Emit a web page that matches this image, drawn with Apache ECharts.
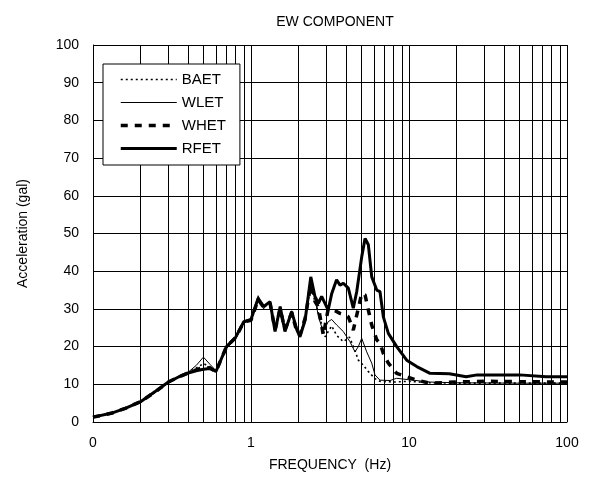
<!DOCTYPE html>
<html>
<head>
<meta charset="utf-8">
<script src="https://cdn.jsdelivr.net/npm/echarts@6/dist/echarts.min.js"></script>
<style>html,body{margin:0;padding:0;background:#fff}#c{width:589px;height:490px}</style>
</head>
<body>
<div id="c"></div>
<script>
const seriesNames = ['BAET', 'WLET', 'WHET', 'RFET'];
const xTickLabels = ['0', '1', '10', '100'];

const baet = [[0.1,1.3],[0.13,2.3],[0.16,3.6],[0.2,5.3],[0.25,8],[0.3,10.5],[0.35,12],[0.4,13.1],[0.45,14.3],[0.5,15.5],[0.55,14.6],[0.6,13.5],[0.7,19.8],[0.8,22.3],[0.9,26.4],[1.0,27],[1.11,33],[1.2,30.3],[1.32,31.7],[1.42,24.3],[1.53,30.4],[1.64,24.3],[1.81,29.2],[1.95,24.2],[2.04,22.8],[2.2,27.5],[2.39,36],[2.54,32],[2.67,29],[2.94,22.6],[3.24,25.5],[3.48,23],[3.84,21.3],[4.2,22.5],[4.5,19.5],[4.78,16.4],[5.1,15.2],[5.5,13.5],[6.09,11.5],[6.55,10.8],[8,10.6],[10,10.8],[13.6,10.4],[20,10.3],[50,10.3],[100,10.3]];

const wlet = [[0.1,1.3],[0.13,2.3],[0.16,3.6],[0.2,5.3],[0.25,8],[0.3,10.5],[0.35,12],[0.4,13.2],[0.45,15],[0.5,17.2],[0.55,15.3],[0.6,13.6],[0.7,19.5],[0.8,22],[0.9,26.3],[1.0,27],[1.11,33.5],[1.2,30],[1.32,32],[1.42,24.5],[1.53,30.2],[1.64,24.5],[1.81,29.5],[1.95,24],[2.04,22.8],[2.2,28],[2.39,37],[2.54,33],[2.67,28],[2.86,24],[3.08,26.6],[3.24,27.2],[3.49,25.7],[3.84,24],[4.23,21.3],[4.55,18.6],[4.78,20],[5.02,22.2],[5.4,18.6],[5.81,15.6],[6.09,12.5],[6.55,11.1],[7.58,11],[8.36,11.6],[10,11.2],[13.6,10.6],[20,10.4],[50,10.3],[100,10.3]];

const whet = [[0.1,1.3],[0.13,2.3],[0.16,3.6],[0.2,5.4],[0.25,8.1],[0.3,10.6],[0.35,12],[0.4,13],[0.45,13.8],[0.5,14.5],[0.55,14.3],[0.6,13.4],[0.7,20],[0.8,22.4],[0.9,26.5],[1.0,27],[1.11,32.5],[1.2,30.5],[1.32,31.5],[1.42,24.5],[1.53,30],[1.64,24.5],[1.81,29],[1.95,24],[2.04,23],[2.2,27.5],[2.39,36.5],[2.54,32],[2.67,30.5],[2.87,23],[3.08,30],[3.4,29.5],[3.66,28.8],[3.94,28.4],[4.13,27.9],[4.44,24.4],[4.78,30.2],[5.02,34.1],[5.27,33.7],[5.53,29.7],[5.81,25.7],[6.25,21.8],[6.55,20.9],[6.88,18.2],[7.4,15.6],[8.36,12.9],[9.67,12],[11.2,11.1],[13.6,10.3],[20,10.6],[30,10.8],[50,10.7],[100,10.6]];

const rfet = [[0.1,1.3],[0.13,2.3],[0.16,3.6],[0.2,5.4],[0.25,8.2],[0.3,10.6],[0.35,12],[0.4,13],[0.45,13.6],[0.5,14],[0.55,14.2],[0.6,13.4],[0.7,20],[0.8,22.5],[0.9,26.6],[1.0,27.2],[1.11,32.8],[1.2,30.6],[1.32,31.9],[1.42,24],[1.53,30.6],[1.64,24],[1.81,29.3],[1.95,24.5],[2.04,22.6],[2.2,27],[2.39,38.5],[2.54,33.3],[2.67,31.5],[2.8,33.3],[3.08,29.7],[3.24,34],[3.48,37.7],[3.66,36.3],[3.84,36.8],[4.13,35.5],[4.44,30.2],[4.67,34.6],[5.02,43.8],[5.27,48.7],[5.53,47],[5.81,38.5],[6.25,35],[6.55,34.6],[6.88,27.9],[7.4,23.5],[8.36,20],[9.67,16.4],[11.2,14.7],[13.6,12.9],[18,12.8],[23,12],[27,12.5],[38,12.5],[50,12.5],[74,12],[100,12]];

const FONT = 'Liberation Sans, Arial, sans-serif';
const chart = echarts.init(document.getElementById('c'), null, {renderer: 'canvas'});

const styles = {
  BAET: {color: '#000', width: 1.6, type: [2, 3]},
  WLET: {color: '#000', width: 1, type: 'solid'},
  WHET: {color: '#000', width: 3.5, type: [7, 7]},
  RFET: {color: '#000', width: 3, type: 'solid'}
};
const dataMap = {BAET: baet, WLET: wlet, WHET: whet, RFET: rfet};

chart.setOption({
  animation: false,
  backgroundColor: '#fff',
  title: {
    text: 'EW COMPONENT', left: 330, top: 10, textAlign: 'center',
    textStyle: {fontFamily: FONT, fontSize: 14, fontWeight: 'normal', color: '#000'}
  },
  legend: {
    orient: 'vertical', left: 103, top: 64,
    itemWidth: 56, itemHeight: 15, itemGap: 8,
    padding: [8, 14, 9, 16],
    backgroundColor: '#fff', borderColor: '#000', borderWidth: 1,
    itemStyle: {opacity: 0},
    lineStyle: {width: 'inherit', type: 'inherit'},
    textStyle: {fontFamily: FONT, fontSize: 15, color: '#000'},
    data: seriesNames
  },
  grid: {left: 93, right: 22, top: 45, bottom: 68, containLabel: false},
  xAxis: {
    type: 'log', logBase: 10, min: 0.1, max: 100,
    axisLine: {show: true, lineStyle: {color: '#000', width: 1}},
    axisTick: {show: false},
    axisLabel: {
      color: '#000', fontFamily: FONT, fontSize: 14, margin: 14,
      formatter: function (v) { return xTickLabels[Math.round(Math.log10(v)) + 1]; }
    },
    splitLine: {show: true, lineStyle: {color: '#000', width: 1}},
    minorTick: {show: false, splitNumber: 9},
    minorSplitLine: {show: true, lineStyle: {color: '#000', width: 1}},
    name: 'FREQUENCY  (Hz)', nameLocation: 'middle', nameGap: 36,
    nameTextStyle: {fontFamily: FONT, fontSize: 14, color: '#000'}
  },
  yAxis: {
    type: 'value', min: 0, max: 100, interval: 10,
    axisLine: {show: true, lineStyle: {color: '#000', width: 1}},
    axisTick: {show: false},
    axisLabel: {color: '#000', fontFamily: FONT, fontSize: 14, margin: 14},
    splitLine: {show: true, lineStyle: {color: '#000', width: 1}},
    name: 'Acceleration (gal)', nameLocation: 'middle', nameGap: 63, nameRotate: 90,
    nameTextStyle: {fontFamily: FONT, fontSize: 14, color: '#000'}
  },
  series: seriesNames.map(function (n) {
    return {
      name: n, type: 'line', data: dataMap[n], symbol: 'none', showSymbol: false,
      lineStyle: styles[n], itemStyle: {color: '#000'}, z: 3
    };
  })
});
</script>
</body>
</html>
